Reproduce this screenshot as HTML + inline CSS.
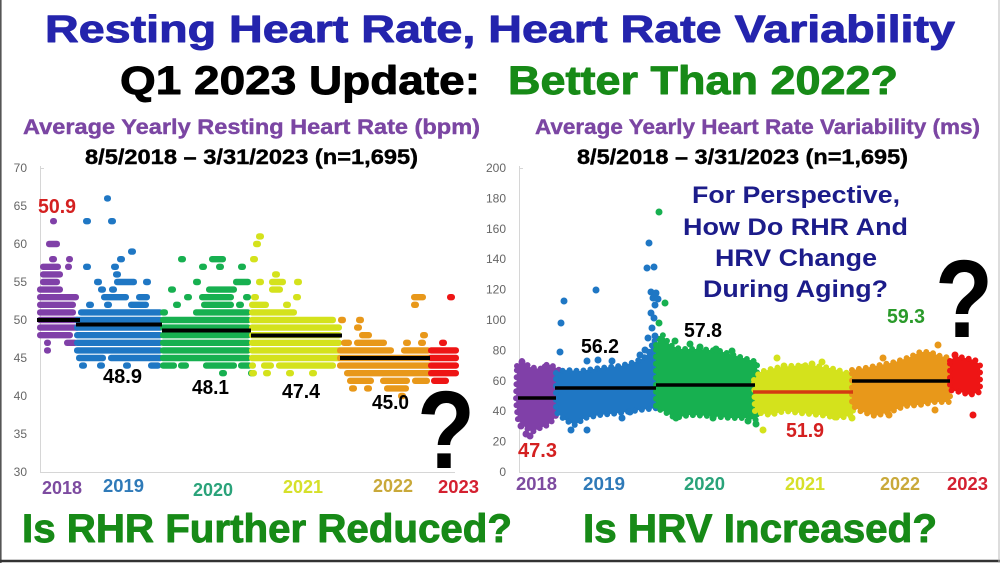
<!DOCTYPE html>
<html>
<head>
<meta charset="utf-8">
<style>
  html,body{margin:0;padding:0;background:#fff;}
  svg{display:block;}
  text{font-family:"Liberation Sans",Arial,sans-serif;font-weight:bold;}
  .tk{font-weight:normal;font-size:12px;fill:#666;}
  .hv{stroke-width:0.9px;stroke-linejoin:round;}
  .mv{stroke-width:0.4px;stroke-linejoin:round;}
</style>
</head>
<body>
<svg width="1000" height="563" viewBox="0 0 1000 563" xmlns="http://www.w3.org/2000/svg">
  <rect x="0" y="0" width="1000" height="563" fill="#fff"/>
  <!-- frame -->
  <line x1="0.8" y1="0" x2="0.8" y2="563" stroke="#555" stroke-width="1.6"/>
  <line x1="0" y1="561" x2="1000" y2="561" stroke="#333" stroke-width="2.4"/>
  <line x1="999" y1="0" x2="999" y2="563" stroke="#bbb" stroke-width="1"/>

  <!-- Titles -->
  <text class="hv" x="45" y="42" font-size="38" fill="#2424ad" stroke="#2424ad" textLength="910" lengthAdjust="spacingAndGlyphs">Resting Heart Rate, Heart Rate Variability</text>
  <text class="hv" x="120" y="94" font-size="40" fill="#000" stroke="#000" textLength="360" lengthAdjust="spacingAndGlyphs">Q1 2023 Update:</text>
  <text class="hv" x="508" y="94" font-size="40" fill="#178a17" stroke="#178a17" textLength="390" lengthAdjust="spacingAndGlyphs">Better Than 2022?</text>

  <text class="mv" x="23" y="134" font-size="21" fill="#7b46a3" stroke="#7b46a3" textLength="457" lengthAdjust="spacingAndGlyphs">Average Yearly Resting Heart Rate (bpm)</text>
  <text class="mv" x="535" y="134" font-size="21" fill="#7b46a3" stroke="#7b46a3" textLength="445" lengthAdjust="spacingAndGlyphs">Average Yearly Heart Rate Variability (ms)</text>
  <text class="mv" x="85" y="164" font-size="21" fill="#000" stroke="#000" textLength="333" lengthAdjust="spacingAndGlyphs">8/5/2018 – 3/31/2023 (n=1,695)</text>
  <text class="mv" x="577" y="164" font-size="21" fill="#000" stroke="#000" textLength="331" lengthAdjust="spacingAndGlyphs">8/5/2018 – 3/31/2023 (n=1,695)</text>

  <!-- ================= LEFT CHART ================= -->
  <g stroke="#d6d6d6" stroke-width="1">
    <line x1="40.5" y1="166" x2="40.5" y2="472"/>
    <line x1="40" y1="472.5" x2="455" y2="472.5"/>
    <line x1="40" y1="168.5" x2="44" y2="168.5"/>
  </g>
  <g text-anchor="end">
    <text class="tk" x="27" y="172">70</text>
    <text class="tk" x="27" y="210">65</text>
    <text class="tk" x="27" y="248">60</text>
    <text class="tk" x="27" y="286">55</text>
    <text class="tk" x="27" y="324">50</text>
    <text class="tk" x="27" y="362">45</text>
    <text class="tk" x="27" y="400">40</text>
    <text class="tk" x="27" y="438">35</text>
    <text class="tk" x="27" y="476">30</text>
  </g>

  <!-- 2018 purple -->
  <g fill="#8040a8">
    <rect x="50" y="218" width="7" height="6.4" rx="3"/>
    <rect x="46" y="240.8" width="14" height="6.4" rx="3"/>
    <rect x="49" y="256" width="8" height="6.4" rx="3"/>
    <rect x="66" y="256" width="7" height="6.4" rx="3"/>
    <rect x="40" y="263.6" width="21" height="6.4" rx="3"/>
    <rect x="65" y="263.6" width="7" height="6.4" rx="3"/>
    <rect x="40" y="271.2" width="23" height="6.4" rx="3"/>
    <rect x="40" y="278.8" width="20" height="6.4" rx="3"/>
    <rect x="37" y="286.4" width="26" height="6.4" rx="3"/>
    <rect x="37" y="294" width="42" height="6.4" rx="3"/>
    <rect x="37" y="301.6" width="39" height="6.4" rx="3"/>
    <rect x="37" y="309.2" width="39" height="6.4" rx="3"/>
    <rect x="37" y="316.8" width="43" height="6.4" rx="3"/>
    <rect x="37" y="324.4" width="43" height="6.4" rx="3"/>
    <rect x="37" y="332" width="36" height="6.4" rx="3"/>
    <rect x="44" y="339.6" width="7" height="6.4" rx="3"/>
    <rect x="64" y="339.6" width="14" height="6.4" rx="3"/>
    <rect x="44" y="347.2" width="7" height="6.4" rx="3"/>
  </g>
  <!-- 2019 blue -->
  <g fill="#1f77c4">
    <rect x="104" y="195.2" width="7" height="6.4" rx="3"/>
    <rect x="83" y="218" width="8" height="6.4" rx="3"/>
    <rect x="108" y="218" width="8" height="6.4" rx="3"/>
    <rect x="128" y="248.4" width="8" height="6.4" rx="3"/>
    <rect x="117" y="256" width="8" height="6.4" rx="3"/>
    <rect x="83" y="263.6" width="8" height="6.4" rx="3"/>
    <rect x="111" y="263.6" width="8" height="6.4" rx="3"/>
    <rect x="113" y="271.2" width="8" height="6.4" rx="3"/>
    <rect x="94" y="278.8" width="8" height="6.4" rx="3"/>
    <rect x="114" y="278.8" width="23" height="6.4" rx="3"/>
    <rect x="143" y="278.8" width="8" height="6.4" rx="3"/>
    <rect x="98" y="286.4" width="8" height="6.4" rx="3"/>
    <rect x="109" y="286.4" width="8" height="6.4" rx="3"/>
    <rect x="101" y="294" width="28" height="6.4" rx="3"/>
    <rect x="136" y="294" width="14" height="6.4" rx="3"/>
    <rect x="86" y="301.6" width="8" height="6.4" rx="3"/>
    <rect x="104" y="301.6" width="8" height="6.4" rx="3"/>
    <rect x="128" y="301.6" width="21" height="6.4" rx="3"/>
    <rect x="78" y="309.2" width="85" height="6.4" rx="3"/>
    <rect x="74" y="316.8" width="89" height="6.4" rx="3"/>
    <rect x="74" y="324.4" width="89" height="6.4" rx="3"/>
    <rect x="74" y="332" width="89" height="6.4" rx="3"/>
    <rect x="74" y="339.6" width="89" height="6.4" rx="3"/>
    <rect x="74" y="347.2" width="89" height="6.4" rx="3"/>
    <rect x="76" y="354.8" width="30" height="6.4" rx="3"/>
    <rect x="108" y="354.8" width="55" height="6.4" rx="3"/>
    <rect x="79" y="362.4" width="8" height="6.4" rx="3"/>
    <rect x="97" y="362.4" width="8" height="6.4" rx="3"/>
    <rect x="123" y="362.4" width="8" height="6.4" rx="3"/>
    <rect x="148" y="362.4" width="13" height="6.4" rx="3"/>
  </g>
  <!-- 2020 green -->
  <g fill="#17b050">
    <rect x="178" y="256" width="8" height="6.4" rx="3"/>
    <rect x="209" y="256" width="17" height="6.4" rx="3"/>
    <rect x="199" y="263.6" width="8" height="6.4" rx="3"/>
    <rect x="216" y="263.6" width="8" height="6.4" rx="3"/>
    <rect x="238" y="263.6" width="8" height="6.4" rx="3"/>
    <rect x="193" y="278.8" width="8" height="6.4" rx="3"/>
    <rect x="233" y="278.8" width="18" height="6.4" rx="3"/>
    <rect x="168" y="286.4" width="8" height="6.4" rx="3"/>
    <rect x="206" y="286.4" width="31" height="6.4" rx="3"/>
    <rect x="184" y="294" width="8" height="6.4" rx="3"/>
    <rect x="199" y="294" width="35" height="6.4" rx="3"/>
    <rect x="243" y="294" width="8" height="6.4" rx="3"/>
    <rect x="173" y="301.6" width="8" height="6.4" rx="3"/>
    <rect x="201" y="301.6" width="33" height="6.4" rx="3"/>
    <rect x="236" y="301.6" width="8" height="6.4" rx="3"/>
    <rect x="160" y="309.2" width="8" height="6.4" rx="3"/>
    <rect x="193" y="309.2" width="58" height="6.4" rx="3"/>
    <rect x="160" y="316.8" width="91" height="6.4" rx="3"/>
    <rect x="160" y="324.4" width="91" height="6.4" rx="3"/>
    <rect x="160" y="332" width="91" height="6.4" rx="3"/>
    <rect x="160" y="339.6" width="91" height="6.4" rx="3"/>
    <rect x="160" y="347.2" width="91" height="6.4" rx="3"/>
    <rect x="160" y="354.8" width="91" height="6.4" rx="3"/>
    <rect x="160" y="362.4" width="17" height="6.4" rx="3"/>
    <rect x="178" y="362.4" width="11" height="6.4" rx="3"/>
    <rect x="203" y="362.4" width="34" height="6.4" rx="3"/>
    <rect x="238" y="362.4" width="14" height="6.4" rx="3"/>
    <rect x="219" y="370" width="8" height="6.4" rx="3"/>
    <rect x="248" y="370" width="8" height="6.4" rx="3"/>
  </g>
  <!-- 2021 yellow -->
  <g fill="#d4e21c">
    <rect x="256" y="233.2" width="8" height="6.4" rx="3"/>
    <rect x="253" y="240.8" width="8" height="6.4" rx="3"/>
    <rect x="250" y="256" width="8" height="6.4" rx="3"/>
    <rect x="272" y="271.2" width="8" height="6.4" rx="3"/>
    <rect x="256" y="278.8" width="8" height="6.4" rx="3"/>
    <rect x="269" y="278.8" width="17" height="6.4" rx="3"/>
    <rect x="294" y="278.8" width="8" height="6.4" rx="3"/>
    <rect x="269" y="286.4" width="14" height="6.4" rx="3"/>
    <rect x="251" y="294" width="8" height="6.4" rx="3"/>
    <rect x="293" y="294" width="8" height="6.4" rx="3"/>
    <rect x="249" y="301.6" width="20" height="6.4" rx="3"/>
    <rect x="283" y="301.6" width="8" height="6.4" rx="3"/>
    <rect x="249" y="309.2" width="48" height="6.4" rx="3"/>
    <rect x="249" y="316.8" width="87" height="6.4" rx="3"/>
    <rect x="249" y="324.4" width="93" height="6.4" rx="3"/>
    <rect x="249" y="332" width="93" height="6.4" rx="3"/>
    <rect x="249" y="339.6" width="93" height="6.4" rx="3"/>
    <rect x="249" y="347.2" width="93" height="6.4" rx="3"/>
    <rect x="249" y="354.8" width="93" height="6.4" rx="3"/>
    <rect x="249" y="362.4" width="7" height="6.4" rx="3"/>
    <rect x="261" y="362.4" width="13" height="6.4" rx="3"/>
    <rect x="276" y="362.4" width="60" height="6.4" rx="3"/>
    <rect x="249" y="370" width="8" height="6.4" rx="3"/>
    <rect x="263" y="370" width="8" height="6.4" rx="3"/>
    <rect x="286" y="370" width="8" height="6.4" rx="3"/>
    <rect x="309" y="370" width="8" height="6.4" rx="3"/>
  </g>
  <!-- 2022 orange -->
  <g fill="#e8981a">
    <rect x="411" y="294" width="15" height="6.4" rx="3"/>
    <rect x="411" y="301.6" width="8" height="6.4" rx="3"/>
    <rect x="338" y="316.8" width="8" height="6.4" rx="3"/>
    <rect x="356" y="316.8" width="8" height="6.4" rx="3"/>
    <rect x="354" y="324.4" width="8" height="6.4" rx="3"/>
    <rect x="359" y="332" width="13" height="6.4" rx="3"/>
    <rect x="420" y="332" width="8" height="6.4" rx="3"/>
    <rect x="341" y="339.6" width="11" height="6.4" rx="3"/>
    <rect x="354" y="339.6" width="33" height="6.4" rx="3"/>
    <rect x="403" y="339.6" width="8" height="6.4" rx="3"/>
    <rect x="418" y="339.6" width="8" height="6.4" rx="3"/>
    <rect x="337" y="347.2" width="57" height="6.4" rx="3"/>
    <rect x="401" y="347.2" width="30" height="6.4" rx="3"/>
    <rect x="337" y="354.8" width="96" height="6.4" rx="3"/>
    <rect x="337" y="362.4" width="96" height="6.4" rx="3"/>
    <rect x="344" y="370" width="89" height="6.4" rx="3"/>
    <rect x="347" y="377.6" width="27" height="6.4" rx="3"/>
    <rect x="380" y="377.6" width="30" height="6.4" rx="3"/>
    <rect x="412" y="377.6" width="18" height="6.4" rx="3"/>
    <rect x="349" y="385.2" width="8" height="6.4" rx="3"/>
    <rect x="364" y="385.2" width="8" height="6.4" rx="3"/>
    <rect x="384" y="385.2" width="25" height="6.4" rx="3"/>
    <rect x="398" y="392.8" width="8" height="6.4" rx="3"/>
  </g>
  <!-- 2023 red -->
  <g fill="#ee1515">
    <rect x="447" y="294" width="8" height="6.4" rx="3"/>
    <rect x="439" y="339.6" width="8" height="6.4" rx="3"/>
    <rect x="428" y="347.2" width="31" height="6.4" rx="3"/>
    <rect x="428" y="354.8" width="31" height="6.4" rx="3"/>
    <rect x="428" y="362.4" width="31" height="6.4" rx="3"/>
    <rect x="428" y="370" width="31" height="6.4" rx="3"/>
    <rect x="431" y="377.6" width="18" height="6.4" rx="3"/>
  </g>
  <!-- mean lines left -->
  <g stroke="#000" stroke-width="4">
    <line x1="37" y1="320" x2="80" y2="320"/>
    <line x1="76" y1="324.5" x2="162" y2="324.5"/>
    <line x1="162" y1="330.5" x2="251" y2="330.5"/>
    <line x1="251" y1="335.5" x2="342" y2="335.5"/>
    <line x1="340" y1="358" x2="430" y2="358"/>
  </g>
  <!-- value labels left -->
  <text x="38" y="213" font-size="20" fill="#d42020" textLength="38" lengthAdjust="spacingAndGlyphs">50.9</text>
  <text x="103" y="383" font-size="20" fill="#000" textLength="39" lengthAdjust="spacingAndGlyphs">48.9</text>
  <text x="192" y="394" font-size="20" fill="#000" textLength="37" lengthAdjust="spacingAndGlyphs">48.1</text>
  <text x="282" y="398" font-size="20" fill="#000" textLength="38" lengthAdjust="spacingAndGlyphs">47.4</text>
  <text x="372" y="409" font-size="20" fill="#000" textLength="37" lengthAdjust="spacingAndGlyphs">45.0</text>
  <text x="417" y="468" font-size="110" fill="#000" textLength="58" lengthAdjust="spacingAndGlyphs">?</text>
  <!-- year labels left -->
  <text x="42" y="494" font-size="18" fill="#7d4ba0" textLength="40" lengthAdjust="spacingAndGlyphs">2018</text>
  <text x="103" y="492" font-size="18" fill="#2f7ab8" textLength="41" lengthAdjust="spacingAndGlyphs">2019</text>
  <text x="193" y="496" font-size="18" fill="#2aa37a" textLength="40" lengthAdjust="spacingAndGlyphs">2020</text>
  <text x="283" y="493" font-size="18" fill="#d6e02a" textLength="40" lengthAdjust="spacingAndGlyphs">2021</text>
  <text x="373" y="492" font-size="18" fill="#c9a93a" textLength="40" lengthAdjust="spacingAndGlyphs">2022</text>
  <text x="438" y="493" font-size="18" fill="#d42030" textLength="41" lengthAdjust="spacingAndGlyphs">2023</text>

  <!-- ================= RIGHT CHART ================= -->
  <g stroke="#d6d6d6" stroke-width="1">
    <line x1="519.5" y1="166" x2="519.5" y2="472"/>
    <line x1="519" y1="472.5" x2="977" y2="472.5"/>
    <line x1="519" y1="168.5" x2="523" y2="168.5"/>
  </g>
  <g text-anchor="end">
    <text class="tk" x="506" y="172">200</text>
    <text class="tk" x="506" y="202.4">180</text>
    <text class="tk" x="506" y="232.8">160</text>
    <text class="tk" x="506" y="263.2">140</text>
    <text class="tk" x="506" y="293.6">120</text>
    <text class="tk" x="506" y="324">100</text>
    <text class="tk" x="506" y="354.4">80</text>
    <text class="tk" x="506" y="384.8">60</text>
    <text class="tk" x="506" y="415.2">40</text>
    <text class="tk" x="506" y="445.6">20</text>
    <text class="tk" x="506" y="476">0</text>
  </g>

  <g stroke-width="6" stroke-linecap="round" stroke-linejoin="round" stroke-dasharray="0 7">
    <polygon fill="#8040a8" stroke="#8040a8" points="517,366 522,361 530,367 540,369 548,364 555,367 562,372 563,392 560,405 555,418 548,425 540,428 532,432 526,428 518,420 516,400"/>
    <polygon fill="#1f77c4" stroke="#1f77c4" points="556,373 565,370 580,371 600,368 620,366 635,362 645,357 650,350 654,340 657,345 658,408 640,410 620,413 600,415 585,418 575,425 565,420 556,412"/>
    <polygon fill="#17b050" stroke="#17b050" points="656,345 662,334 670,345 680,349 700,349 720,351 740,357 757,362 757,420 745,418 730,418 710,416 690,415 675,418 665,412 656,408"/>
    <polygon fill="#d4e21c" stroke="#d4e21c" points="754,380 760,372 775,368 790,366 810,365 830,368 845,372 853,376 853,415 840,418 820,415 800,413 785,411 770,415 755,412"/>
    <polygon fill="#e8981a" stroke="#e8981a" points="852,370 865,368 880,365 895,362 910,357 920,352 930,352 940,356 950,358 950,402 935,402 920,405 905,406 890,412 875,416 860,411 852,405"/>
    <polygon fill="#ee1515" stroke="#ee1515" points="950,361 955,356 965,358 975,360 980,365 980,392 970,395 960,392 950,390"/>
  </g>
  <g fill="#8040a8">
    <circle cx="522" cy="362" r="3.5"/><circle cx="545" cy="367" r="3.5"/><circle cx="526" cy="434" r="3.5"/><circle cx="530" cy="436" r="3.5"/><circle cx="521" cy="426" r="3.5"/>
  </g>
  <g fill="#1f77c4">
    <circle cx="564" cy="301" r="3.5"/><circle cx="561" cy="323" r="3.5"/><circle cx="560" cy="352" r="3.5"/><circle cx="596" cy="290" r="3.5"/>
    <circle cx="587" cy="361" r="3.5"/><circle cx="598" cy="360" r="3.5"/><circle cx="612" cy="361" r="3.5"/>
    <circle cx="571" cy="430" r="3.5"/><circle cx="587" cy="430" r="3.5"/><circle cx="622" cy="418" r="3.5"/><circle cx="630" cy="412" r="3.5"/>
    <circle cx="649" cy="243" r="3.5"/><circle cx="647" cy="268" r="3.5"/><circle cx="654" cy="267" r="3.5"/>
    <circle cx="651" cy="292" r="3.5"/><circle cx="656" cy="293" r="3.5"/><circle cx="653" cy="298" r="3.5"/><circle cx="658" cy="299" r="3.5"/>
    <circle cx="655" cy="305" r="3.5"/><circle cx="651" cy="313" r="3.5"/><circle cx="654" cy="318" r="3.5"/>
    <circle cx="652" cy="328" r="3.5"/><circle cx="648" cy="338" r="3.5"/><circle cx="655" cy="336" r="3.5"/><circle cx="645" cy="350" r="3.5"/><circle cx="640" cy="355" r="3.5"/>
  </g>
  <g fill="#17b050">
    <circle cx="659" cy="212" r="3.5"/><circle cx="665" cy="303" r="3.5"/><circle cx="659" cy="323" r="3.5"/>
    <circle cx="675" cy="341" r="3.5"/><circle cx="690" cy="344" r="3.5"/><circle cx="700" cy="347" r="3.5"/><circle cx="716" cy="349" r="3.5"/><circle cx="732" cy="351" r="3.5"/>
    <circle cx="676" cy="418" r="3.5"/><circle cx="713" cy="418" r="3.5"/><circle cx="748" cy="421" r="3.5"/><circle cx="756" cy="424" r="3.5"/>
  </g>
  <g fill="#d4e21c">
    <circle cx="777" cy="358" r="3.5"/><circle cx="784" cy="366" r="3.5"/><circle cx="803" cy="367" r="3.5"/><circle cx="812" cy="364" r="3.5"/><circle cx="822" cy="362" r="3.5"/>
    <circle cx="763" cy="430" r="3.5"/><circle cx="852" cy="418" r="3.5"/><circle cx="835" cy="417" r="3.5"/>
  </g>
  <g fill="#e8981a">
    <circle cx="938" cy="345" r="3.5"/><circle cx="883" cy="358" r="3.5"/><circle cx="889" cy="415" r="3.5"/><circle cx="935" cy="410" r="3.5"/>
  </g>
  <g fill="#ee1515">
    <circle cx="973" cy="415" r="3.5"/><circle cx="955" cy="355" r="3.5"/>
  </g>
  <g stroke-width="3.5">
    <line x1="518" y1="398" x2="556" y2="398" stroke="#000"/>
    <line x1="555" y1="388" x2="656" y2="388" stroke="#000"/>
    <line x1="656" y1="385" x2="755" y2="385" stroke="#000"/>
    <line x1="753" y1="392" x2="853" y2="392" stroke="#d43a12"/>
    <line x1="852" y1="381" x2="950" y2="381" stroke="#000"/>
  </g>
  <text x="518" y="457" font-size="20" fill="#d42020" textLength="39" lengthAdjust="spacingAndGlyphs">47.3</text>
  <text x="581" y="353" font-size="20" fill="#000" textLength="38" lengthAdjust="spacingAndGlyphs">56.2</text>
  <text x="684" y="337" font-size="20" fill="#000" textLength="38" lengthAdjust="spacingAndGlyphs">57.8</text>
  <text x="786" y="437" font-size="20" fill="#d42020" textLength="38" lengthAdjust="spacingAndGlyphs">51.9</text>
  <text x="887" y="323" font-size="20" fill="#2a9a2a" textLength="38" lengthAdjust="spacingAndGlyphs">59.3</text>
  <g font-size="24" fill="#1c1c8a">
    <text x="692" y="203" textLength="208" lengthAdjust="spacingAndGlyphs">For Perspective,</text>
    <text x="683" y="235" textLength="225" lengthAdjust="spacingAndGlyphs">How Do RHR And</text>
    <text x="715" y="266" textLength="162" lengthAdjust="spacingAndGlyphs">HRV Change</text>
    <text x="703" y="297" textLength="185" lengthAdjust="spacingAndGlyphs">During Aging?</text>
  </g>
  <text x="935" y="337" font-size="110" fill="#000" textLength="58" lengthAdjust="spacingAndGlyphs">?</text>
  <text x="516" y="490" font-size="18" fill="#7d4ba0" textLength="41" lengthAdjust="spacingAndGlyphs">2018</text>
  <text x="583" y="490" font-size="18" fill="#2f7ab8" textLength="42" lengthAdjust="spacingAndGlyphs">2019</text>
  <text x="684" y="490" font-size="18" fill="#2aa37a" textLength="41" lengthAdjust="spacingAndGlyphs">2020</text>
  <text x="785" y="490" font-size="18" fill="#d6e02a" textLength="40" lengthAdjust="spacingAndGlyphs">2021</text>
  <text x="880" y="490" font-size="18" fill="#c9a93a" textLength="40" lengthAdjust="spacingAndGlyphs">2022</text>
  <text x="947" y="490" font-size="18" fill="#d42030" textLength="41" lengthAdjust="spacingAndGlyphs">2023</text>

  <text class="hv" x="22" y="542" font-size="40" fill="#178a17" stroke="#178a17" textLength="490" lengthAdjust="spacingAndGlyphs">Is RHR Further Reduced?</text>
  <text class="hv" x="583" y="542" font-size="40" fill="#178a17" stroke="#178a17" textLength="354" lengthAdjust="spacingAndGlyphs">Is HRV Increased?</text>
</svg>
</body>
</html>
